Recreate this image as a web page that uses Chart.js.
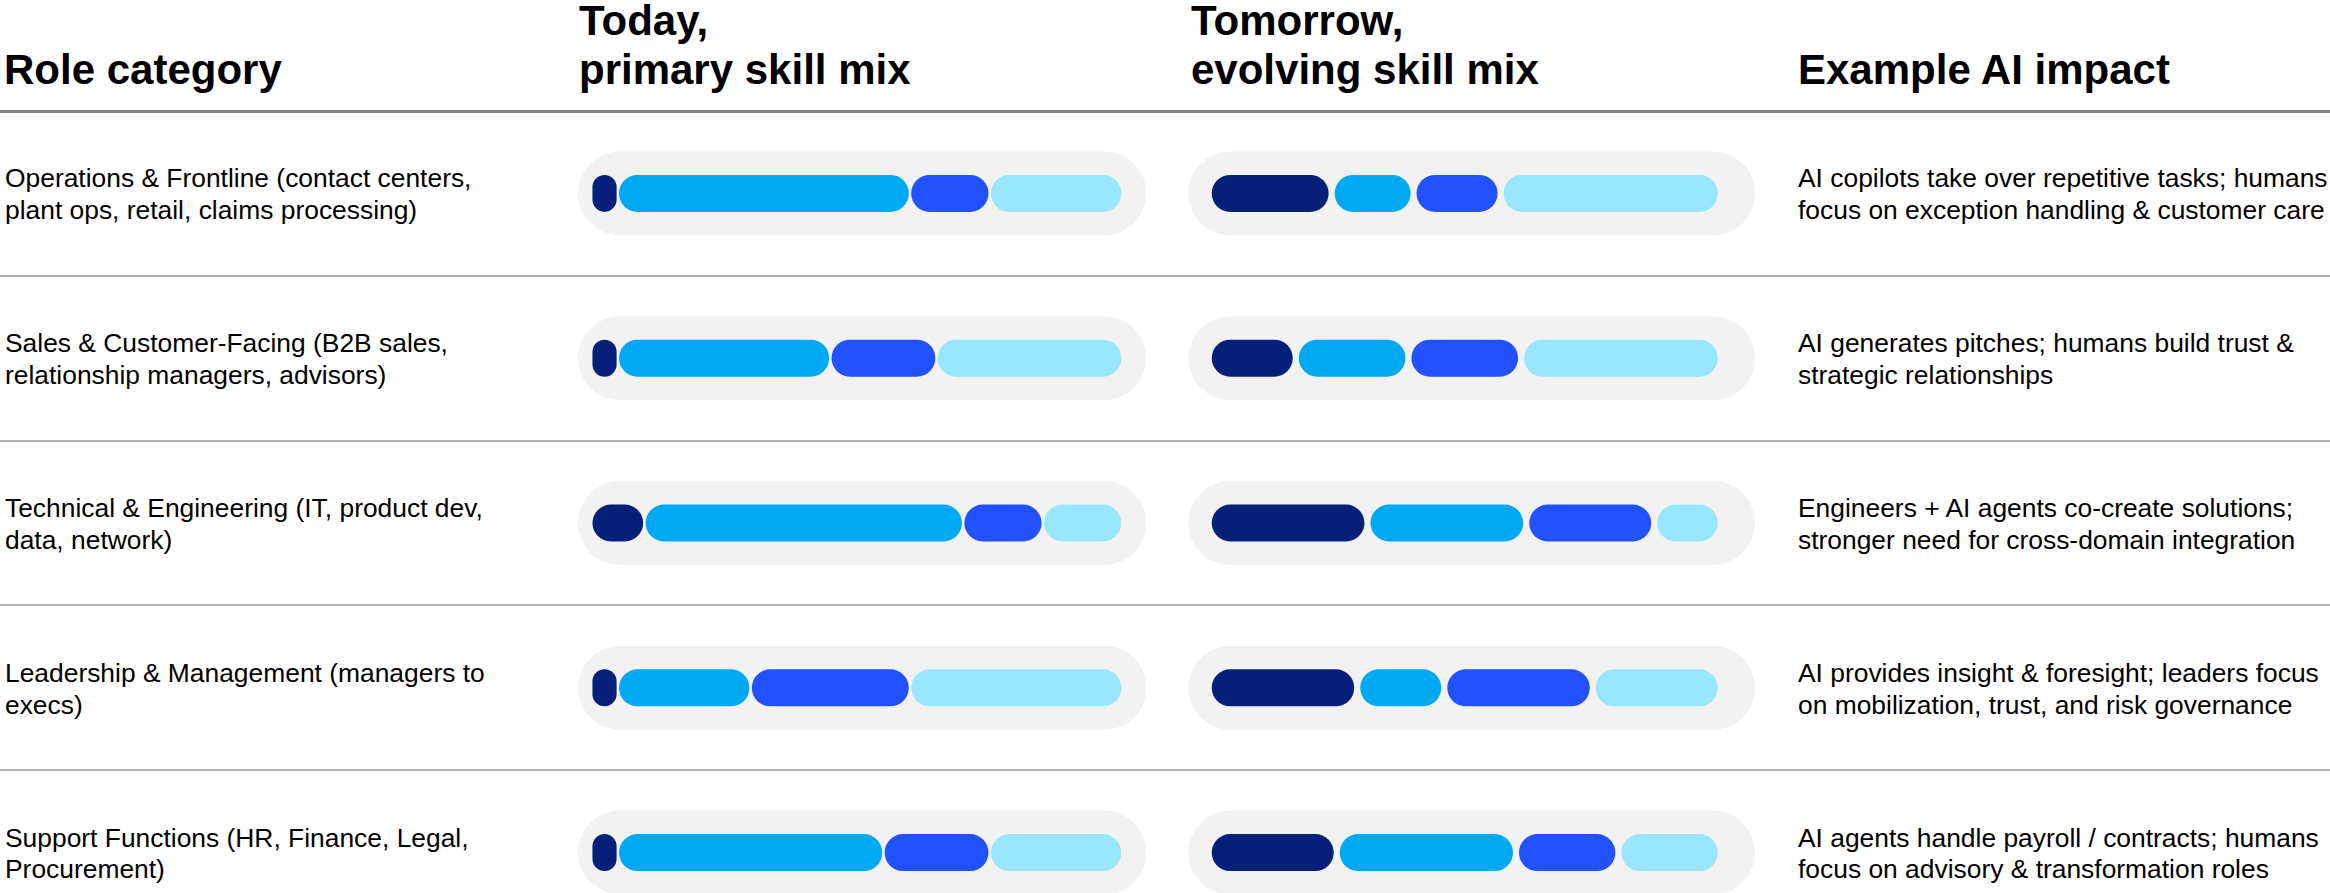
<!DOCTYPE html>
<html>
<head>
<meta charset="utf-8">
<script src="https://cdn.jsdelivr.net/npm/chart.js@4.4.1/dist/chart.umd.min.js"></script>
<style>
  html, body { margin: 0; padding: 0; background: #fff; }
  body { width: 2330px; height: 893px; overflow: hidden; position: relative; font-family: "Liberation Sans", Arial, sans-serif; color: #000; }
  .hdr { position: absolute; font-size: 42px; font-weight: bold; line-height: 49px; white-space: nowrap; }
  .txt { position: absolute; font-size: 26.4px; line-height: 31.7px; white-space: nowrap; }
  .rule { position: absolute; left: 0; width: 2330px; }
  canvas { position: absolute; }
</style>
</head>
<body>
<canvas id="todayChart" width="595" height="824" style="left:570px; top:111px;"></canvas>
<canvas id="tomorrowChart" width="594" height="824" style="left:1178px; top:111px;"></canvas>

<script>
// =======================
// Data
// =======================
const roles = [
    ['Operations & Frontline (contact centers,', 'plant ops, retail, claims processing)'],
    ['Sales & Customer-Facing (B2B sales,', 'relationship managers, advisors)'],
    ['Technical & Engineering (IT, product dev,', 'data, network)'],
    ['Leadership & Management (managers to', 'execs)'],
    ['Support Functions (HR, Finance, Legal,', 'Procurement)']
];
const impacts = [
    ['AI copilots take over repetitive tasks; humans', 'focus on exception handling & customer care'],
    ['AI generates pitches; humans build trust &', 'strategic relationships'],
    ['Engineers + AI agents co-create solutions;', 'stronger need for cross-domain integration'],
    ['AI provides insight & foresight; leaders focus', 'on mobilization, trust, and risk governance'],
    ['AI agents handle payroll / contracts; humans', 'focus on advisory & transformation roles']
];
const headers = ['Role category', 'Today,\nprimary skill mix', 'Tomorrow,\nevolving skill mix', 'Example AI impact'];

// skill mix shares (% of bar), four segments left to right
const todaySeg1 = [5, 5, 10, 5, 5];
const todaySeg2 = [55, 40, 60, 25, 50];
const todaySeg3 = [15, 20, 15, 30, 20];
const todaySeg4 = [25, 35, 15, 40, 25];

const tomorrowSeg1 = [24, 17, 31, 29, 25];
const tomorrowSeg2 = [16, 22, 31, 17, 35];
const tomorrowSeg3 = [17, 22, 25, 29, 20];
const tomorrowSeg4 = [43, 39, 13, 25, 20];

const segColors = ['#061F79', '#00A9F4', '#2251FF', '#99E6FF'];
const pillColor = '#F2F2F2';

// =======================
// Layout (page text + rules)
// =======================
const topY = 111;
const rowH = 164.8;

function addDiv(cls, left, top, html) {
    const d = document.createElement('div');
    d.className = cls;
    d.style.left = left + 'px';
    d.style.top = top + 'px';
    d.innerHTML = html;
    document.body.appendChild(d);
}

// headers: last line sits on the same baseline
const headerX = [4, 579, 1191, 1798];
headers.forEach((h, i) => {
    const lines = h.split('\n');
    lines.forEach((line, j) => {
        const top = 45 - (lines.length - 1 - j) * 49;
        addDiv('hdr', headerX[i], top, line);
    });
});

// header rule
const hr = document.createElement('div');
hr.className = 'rule';
hr.style.top = (topY - 1.5) + 'px';
hr.style.height = '3px';
hr.style.background = '#808080';
document.body.appendChild(hr);

roles.forEach((r, i) => {
    const center = topY + rowH * (i + 0.5);
    addDiv('txt', 5, center - 30, r.join('<br>'));
    addDiv('txt', 1798, center - 30, impacts[i].join('<br>'));
    if (i > 0) {
        const line = document.createElement('div');
        line.className = 'rule';
        line.style.top = (topY + rowH * i - 1) + 'px';
        line.style.height = '2px';
        line.style.background = '#b0b0b0';
        document.body.appendChild(line);
    }
});

// =======================
// Charts
// =======================
function makeMixChart(canvasId, segs, cfg) {
    const labels = roles.map(r => r[0]);
    // border in pill colour = gap between segments; bar is grown so the fill stays 37px
    const datasets = segs.map((values, k) => ({
        label: 'Skill ' + (k + 1),
        data: values,
        stack: 'mix',
        backgroundColor: segColors[k],
        borderColor: pillColor,
        borderWidth: cfg.gap,
        borderSkipped: false,
        borderRadius: { topLeft: 40, topRight: 40, bottomLeft: 40, bottomRight: 40 },
        inflateAmount: 0,
        barThickness: 37 + 2 * cfg.gap,
        order: 0
    }));
    // grey pill behind each row
    datasets.push({
        label: 'track',
        data: labels.map(() => cfg.pill),
        stack: 'bg',
        grouped: false,
        backgroundColor: pillColor,
        borderWidth: 0,
        borderSkipped: false,
        borderRadius: 42,
        inflateAmount: 0,
        barThickness: 84,
        order: 1
    });

    return new Chart(document.getElementById(canvasId), {
        type: 'bar',
        data: { labels: labels, datasets: datasets },
        options: {
            indexAxis: 'y',
            responsive: false,
            animation: false,
            layout: { padding: 0 },
            scales: {
                x: { stacked: true, min: cfg.min, max: cfg.max, display: false },
                y: { stacked: true, display: false }
            },
            plugins: {
                legend: { display: false },
                tooltip: { filter: item => item.dataset.label !== 'track' }
            }
        }
    });
}

makeMixChart('todayChart', [todaySeg1, todaySeg2, todaySeg3, todaySeg4],
    { min: -4, max: 108, pill: [-2.5, 104.5], gap: 1.2 });
makeMixChart('tomorrowChart', [tomorrowSeg1, tomorrowSeg2, tomorrowSeg3, tomorrowSeg4],
    { min: -6, max: 110, pill: [-4, 106.7], gap: 3 });
</script>
</body>
</html>
